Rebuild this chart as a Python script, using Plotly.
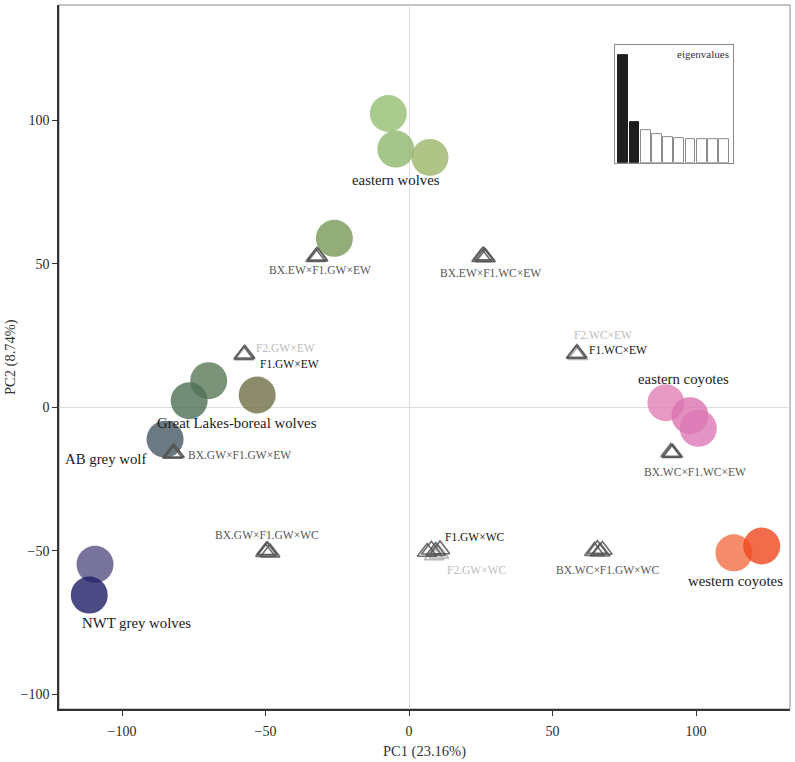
import plotly.graph_objects as go

# ---------------- data ----------------
ref_groups = ["eastern wolves", "eastern wolves", "eastern wolves",
              "eastern wolves (GL)", "Great Lakes-boreal wolves", "Great Lakes-boreal wolves",
              "Great Lakes-boreal wolves", "AB grey wolf", "NWT grey wolves", "NWT grey wolves",
              "eastern coyotes", "eastern coyotes", "eastern coyotes",
              "western coyotes", "western coyotes"]
ref_pc1 = [-7.2, -4.6, 7.3, -26.0, -69.8, -76.6, -52.9, -85.0, -109.4, -111.4,
           89.5, 97.9, 100.8, 113.2, 122.9]
ref_pc2 = [102.4, 90.0, 87.1, 58.9, 9.3, 2.3, 4.3, -11.1, -54.7, -65.4,
           1.6, -2.9, -7.3, -50.7, -48.3]
ref_colors = ["#a9cb8d", "#a6c58a", "#b0c488", "#93ad78", "#7b9479", "#718c77",
              "#8c8b6c", "#6b7a82", "#77739c", "#4c4a85",
              "#e69ac4", "#e28fc0", "#e393c4", "#f48c6c", "#f26c4c"]

hyb_classes = ["BX.EW×F1.GW×EW", "BX.EW×F1.WC×EW", "F1.GW×EW", "F1.WC×EW",
               "BX.GW×F1.GW×EW", "BX.WC×F1.WC×EW", "BX.GW×F1.GW×WC",
               "F1.GW×WC", "BX.WC×F1.GW×WC"]
hyb_pc1 = [[-32.5, -32.0, -31.7],
           [25.3, 25.8, 26.3, 26.7],
           [-57.6, -57.2],
           [58.2, 58.6],
           [-82.4, -82.0, -81.7],
           [91.2, 91.6, 91.9],
           [-50.0, -49.2, -48.4, -49.6],
           [6.3, 7.8, 9.3, 10.8],
           [64.6, 65.6, 66.6, 67.4]]
hyb_pc2 = [[52.3, 52.8, 52.5],
           [52.3, 52.9, 52.6, 52.2],
           [18.3, 18.7],
           [18.6, 18.9],
           [-16.2, -15.8, -16.0],
           [-15.6, -16.0, -15.8],
           [-50.5, -49.9, -50.6, -49.8],
           [-50.4, -49.6, -50.1, -49.5],
           [-50.1, -49.4, -50.3, -49.7]]
f2_classes = ["F2.GW×EW", "F2.WC×EW", "F2.GW×WC"]
f2_pc1 = [[-57.4, -57.0], [58.5, 58.9], [8.8, 10.4]]
f2_pc2 = [[18.0, 18.4], [18.4, 18.2], [-51.6, -51.0]]

eig_rank = [1, 2, 3, 4, 5, 6, 7, 8, 9, 10]
eig_vals = [23.16, 8.74, 7.1, 6.25, 5.4, 5.25, 5.18, 5.1, 4.97, 4.97]

group_labels = ["eastern wolves", "Great Lakes-boreal wolves", "AB grey wolf",
                "NWT grey wolves", "eastern coyotes", "western coyotes"]
group_label_x = [-4.5, -59.9, -105.6, -95.1, 95.8, 113.6]
group_label_y = [79.2, -5.4, -18.0, -75.3, 9.9, -60.5]

hyb_labels = ["BX.EW×F1.GW×EW", "BX.EW×F1.WC×EW", "BX.GW×F1.GW×EW", "BX.WC×F1.WC×EW",
              "BX.GW×F1.GW×WC", "BX.WC×F1.GW×WC"]
hyb_label_x = [-31.0, 28.5, -77.7, 99.7, -49.6, 69.0]
hyb_label_y = [47.8, 46.9, -16.6, -22.4, -44.5, -56.7]
hyb_label_anchor = ["center", "center", "left", "center", "center", "center"]

f1_labels = ["F1.GW×EW", "F1.WC×EW", "F1.GW×WC"]
f1_label_x = [-52.6, 62.0, 11.7]
f1_label_y = [15.1, 20.0, -45.1]
f2_labels = ["F2.GW×EW", "F2.WC×EW", "F2.GW×WC"]
f2_label_x = [-54.0, 56.8, 23.6]
f2_label_y = [20.7, 25.2, -56.7]
f2_label_anchor = ["left", "left", "center"]

x_ticks = [-100, -50, 0, 50, 100]
y_ticks = [-100, -50, 0, 50, 100]

# ---------------- style helpers ----------------
ALPHA = 0.8


def base_color(hexcol, a=ALPHA):
    r, g, b = int(hexcol[1:3], 16), int(hexcol[3:5], 16), int(hexcol[5:7], 16)
    f = lambda v: max(0, min(255, round((v - (1 - a) * 255) / a)))
    return "rgba(%d,%d,%d,%.2f)" % (f(r), f(g), f(b), a)


FONT = "Liberation Serif, Times New Roman, serif"

fig = go.Figure()

fig.add_trace(go.Scatter(
    x=ref_pc1, y=ref_pc2, mode="markers",
    marker=dict(size=37, color=[base_color(c) for c in ref_colors], line=dict(width=0)),
    hoverinfo="skip", showlegend=False))

for xs, ys in zip(f2_pc1, f2_pc2):
    fig.add_trace(go.Scatter(
        x=xs, y=ys, mode="markers",
        marker=dict(symbol="triangle-up-open", size=17, color="#b8b8b8", line=dict(width=1.6)),
        hoverinfo="skip", showlegend=False))

for xs, ys in zip(hyb_pc1, hyb_pc2):
    fig.add_trace(go.Scatter(
        x=xs, y=ys, mode="markers",
        marker=dict(symbol="triangle-up-open", size=17, color="rgba(85,85,85,0.85)", line=dict(width=1.6)),
        hoverinfo="skip", showlegend=False))

fig.add_trace(go.Bar(
    x=eig_rank, y=eig_vals, width=0.88, xaxis="x2", yaxis="y2",
    marker=dict(color=["#1e1e1e", "#1e1e1e"] + ["white"] * (len(eig_vals) - 2),
                line=dict(color=["#1e1e1e", "#1e1e1e"] + ["#8a8a8a"] * (len(eig_vals) - 2), width=1)),
    hoverinfo="skip", showlegend=False))

annotations = []
for t, x, y in zip(group_labels, group_label_x, group_label_y):
    annotations.append(dict(x=x, y=y, xref="x", yref="y", text=t, showarrow=False,
                            font=dict(size=14.8, color="#1a1a1a", family=FONT)))
for t, x, y, a in zip(hyb_labels, hyb_label_x, hyb_label_y, hyb_label_anchor):
    annotations.append(dict(x=x, y=y, xref="x", yref="y", text=t, showarrow=False,
                            xanchor=a, font=dict(size=11.5, color="#555555", family=FONT)))
for t, x, y in zip(f1_labels, f1_label_x, f1_label_y):
    annotations.append(dict(x=x, y=y, xref="x", yref="y", text=t, showarrow=False,
                            xanchor="left", font=dict(size=11.5, color="#111111", family=FONT)))
for t, x, y, a in zip(f2_labels, f2_label_x, f2_label_y, f2_label_anchor):
    annotations.append(dict(x=x, y=y, xref="x", yref="y", text=t, showarrow=False,
                            xanchor=a, font=dict(size=11.5, color="#bbbbbb", family=FONT)))

annotations.append(dict(x=0.919, y=0.931, xref="paper", yref="paper", text="eigenvalues",
                        showarrow=False, xanchor="right", yanchor="middle",
                        font=dict(size=11, color="#333333", family=FONT)))
annotations.append(dict(x=0.5, y=-0.0607, xref="paper", yref="paper", text="PC1 (23.16%)",
                        showarrow=False, yanchor="middle",
                        font=dict(size=14.5, color="#333333", family=FONT)))
annotations.append(dict(x=-0.067, y=0.5, xref="paper", yref="paper", text="PC2 (8.74%)",
                        showarrow=False, textangle=-90, xanchor="center",
                        font=dict(size=14.5, color="#333333", family=FONT)))

fig.update_layout(
    width=795, height=762,
    margin=dict(l=59, r=5, t=5, b=53),
    paper_bgcolor="white", plot_bgcolor="white",
    font=dict(family=FONT, size=14, color="#333333"),
    xaxis=dict(range=[-121.95, 132.75], tickvals=x_ticks, ticks="outside", ticklen=5,
               tickcolor="#333333", showline=True, linecolor="#333333", linewidth=1.5,
               showgrid=False, zeroline=True, zerolinecolor="#dddddd", zerolinewidth=1,
               ticklabelstandoff=3,
               tickfont=dict(size=14, family=FONT, color="#2a2a2a")),
    yaxis=dict(range=[-105.1, 140.2], tickvals=y_ticks, ticks="outside", ticklen=5,
               tickcolor="#333333", showline=True, linecolor="#333333", linewidth=1.5,
               showgrid=False, zeroline=True, zerolinecolor="#dddddd", zerolinewidth=1,
               tickfont=dict(size=14, family=FONT, color="#2a2a2a")),
    xaxis2=dict(domain=[0.7606, 0.922], anchor="y2", range=[0.26, 10.8],
                showticklabels=False, ticks="", showgrid=False, zeroline=False,
                showline=True, mirror=True, linecolor="#8a8a8a", linewidth=1),
    yaxis2=dict(domain=[0.776, 0.943], anchor="x2", range=[0, 25.3],
                showticklabels=False, ticks="", showgrid=False, zeroline=False,
                showline=True, mirror=True, linecolor="#8a8a8a", linewidth=1),
    shapes=[dict(type="rect", xref="paper", yref="paper", x0=0, x1=1, y0=0, y1=1,
                 line=dict(color="#8a8a8a", width=1), layer="below")],
    annotations=annotations,
    bargap=0,
)

fig.write_html("out.html", config={"displayModeBar": False},
               post_script="document.body.style.margin='0';")
